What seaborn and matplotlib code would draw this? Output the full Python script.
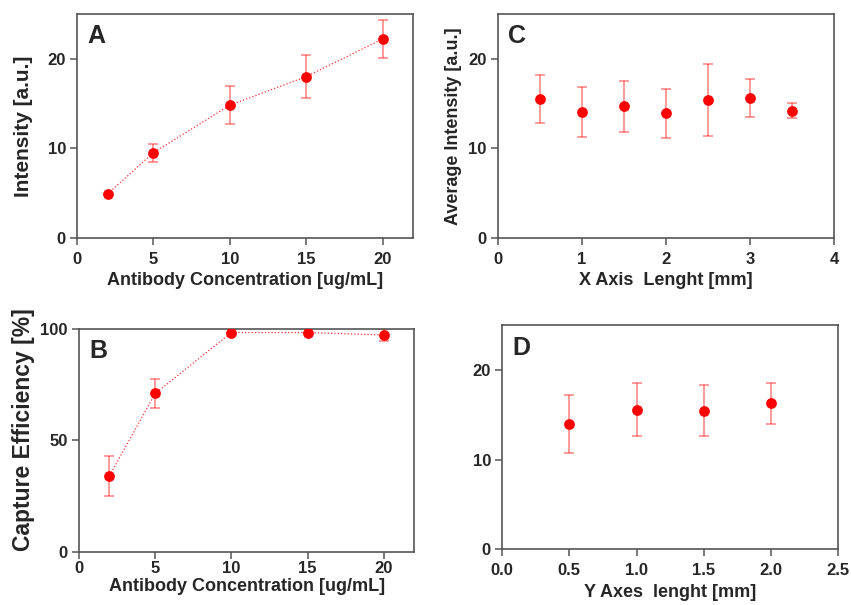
import numpy as np
import pandas as pd
import matplotlib.pyplot as plt
import seaborn as sns

# panel A: intensity vs antibody concentration
conc = [2, 5, 10, 15, 20]
intensity = [4.9, 9.5, 14.8, 18.0, 22.2]
intensity_err = [0.0, 1.0, 2.1, 2.4, 2.1]

# panel B: capture efficiency vs antibody concentration
capture = [34.0, 70.9, 98.2, 98.2, 97.1]
capture_err = [9.0, 6.5, 0.0, 0.0, 2.7]

# panel C: average intensity along X axis
x_len = [0.5, 1.0, 1.5, 2.0, 2.5, 3.0, 3.5]
x_int = [15.5, 14.05, 14.7, 13.9, 15.4, 15.6, 14.2]
x_err = [2.65, 2.75, 2.85, 2.75, 4.0, 2.1, 0.8]

# panel D: average intensity along Y axis
y_len = [0.5, 1.0, 1.5, 2.0]
y_int = [14.0, 15.6, 15.5, 16.3]
y_err = [3.25, 2.95, 2.8, 2.25]

sns.set_style("ticks")
plt.rcParams["font.family"] = ["Liberation Sans", "DejaVu Sans"]
plt.rcParams["font.weight"] = "bold"

RED = "#ff0000"
fig = plt.figure(figsize=(8.51, 6.05), dpi=100)
axA = fig.add_axes([0.0905, 0.607, 0.395, 0.370])
axC = fig.add_axes([0.585, 0.607, 0.395, 0.370])
axB = fig.add_axes([0.0928, 0.088, 0.394, 0.369])
axD = fig.add_axes([0.590, 0.092, 0.395, 0.370])


def draw(ax, x, y, err, line):
    df = pd.DataFrame({"x": x, "y": y})
    if line:
        sns.lineplot(data=df, x="x", y="y", ax=ax, color=RED, lw=0.9,
                     linestyle=":", alpha=0.8)
    ax.errorbar(x, y, yerr=err, fmt="none", ecolor=RED, alpha=0.5,
                elinewidth=1.1, capsize=3.5, capthick=1.1)
    sns.scatterplot(data=df, x="x", y="y", ax=ax, color=RED, s=60,
                    edgecolor=RED, linewidth=0, zorder=5)


draw(axA, conc, intensity, intensity_err, True)
draw(axB, conc, capture, capture_err, True)
draw(axC, x_len, x_int, x_err, False)
draw(axD, y_len, y_int, y_err, False)

for ax in [axA, axB]:
    ax.set_xlim(0, 22)
    ax.set_xticks([0, 5, 10, 15, 20])
axA.set_xlabel("Antibody Concentration [ug/mL]", fontsize=13, fontweight="bold")
axB.set_xlabel("Antibody Concentration [ug/mL]", fontsize=13, fontweight="bold",
               labelpad=1)
axA.set_ylim(0, 25)
axA.set_yticks([0, 10, 20])
axA.set_ylabel("Intensity [a.u.]", fontsize=15, fontweight="bold")
axA.yaxis.set_label_coords(-0.131, 0.5)
axB.set_ylim(0, 100)
axB.set_yticks([0, 50, 100])
axB.set_ylabel("Capture Efficiency [%]", fontsize=16.5, fontweight="bold")
axB.yaxis.set_label_coords(-0.131, 0.545)

axC.set_xlim(0, 4)
axC.set_xticks([0, 1, 2, 3, 4])
axC.set_ylim(0, 25)
axC.set_yticks([0, 10, 20])
axC.set_xlabel("X Axis  Lenght [mm]", fontsize=13, fontweight="bold")
axC.set_ylabel("Average Intensity [a.u.]", fontsize=13, fontweight="bold")
axC.yaxis.set_label_coords(-0.108, 0.5)

axD.set_xlim(0, 2.5)
axD.set_xticks([0.0, 0.5, 1.0, 1.5, 2.0, 2.5])
axD.set_xticklabels(["0.0", "0.5", "1.0", "1.5", "2.0", "2.5"])
axD.set_ylim(0, 25)
axD.set_yticks([0, 10, 20])
axD.set_xlabel("Y Axes  lenght [mm]", fontsize=13, fontweight="bold")
axD.set_ylabel("")

for ax, letter in zip([axA, axB, axC, axD], "ABCD"):
    for s in ax.spines.values():
        s.set_color("#555555")
        s.set_linewidth(1.2)
    ax.tick_params(axis="both", which="both", top=False, right=False,
                   direction="out", length=5, width=1.1, color="#555555",
                   labelsize=12, pad=3)
    ax.tick_params(axis="x", pad=5)
    for t in ax.get_xticklabels() + ax.get_yticklabels():
        t.set_fontweight("bold")
    ax.text(0.03, 0.9, letter, transform=ax.transAxes, fontsize=18,
            fontweight="bold", ha="left", va="center")
axB.tick_params(axis="x", pad=2)

fig.savefig("out.png", dpi=100)
